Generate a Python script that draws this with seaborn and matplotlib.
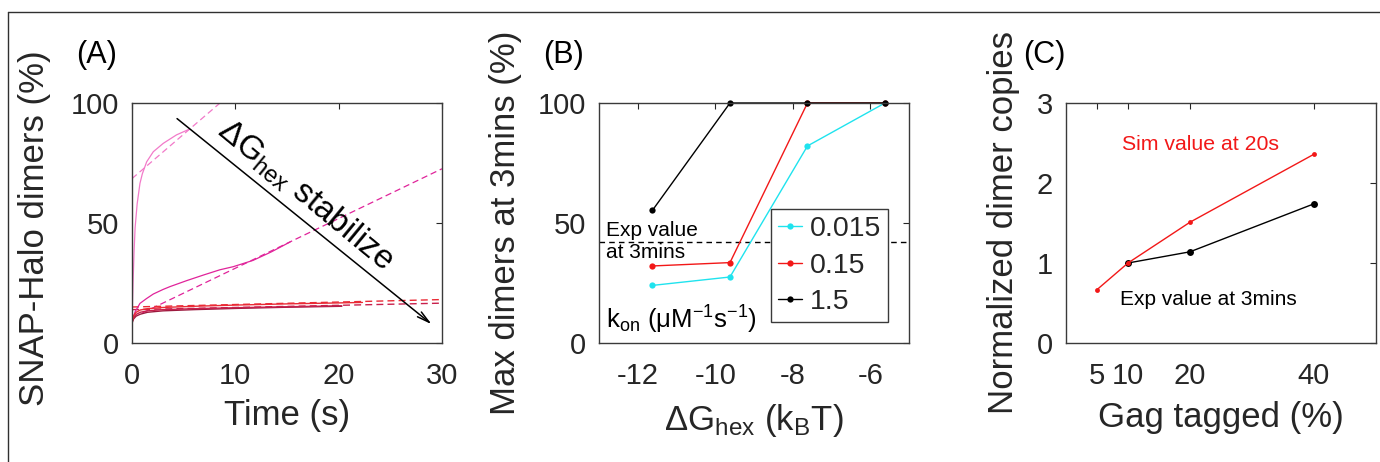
import numpy as np
import pandas as pd
import matplotlib
matplotlib.use("Agg")
import matplotlib.pyplot as plt
from matplotlib.lines import Line2D
import seaborn as sns

# ---------------- Panel A: SNAP-Halo dimer time courses ----------------
pink_t = [0, 0.1, 0.2, 0.3, 0.5, 0.77, 1.0, 1.42, 2.06, 3.03, 4.3, 5.5]
pink_y = [9.5, 25, 38, 48, 58, 66.5, 70.5, 75.5, 79.7, 83.2, 86.7, 89]
pink_fit_t = [0, 8.6]
pink_fit_y = [68.5, 100.3]

mag_t = [0, 0.3, 0.77, 1.4, 2.06, 3.0, 3.68, 5.3, 6.9, 8.5, 9.8, 11.7, 13.5, 15.3]
mag_y = [9, 13, 16.5, 18.5, 20.4, 22.3, 23.5, 26, 28.3, 30.5, 31.8, 34.4, 38, 42.1]
mag_fit_t = [1.0, 30]
mag_fit_y = [12.5, 72.6]

red_t = [0, 0.15, 0.4, 0.8, 1.5, 3, 6, 10, 15, 20, 22.3]
red_y = [9, 11.3, 12.8, 13.75, 14.3, 14.8, 15.3, 15.8, 16.3, 16.7, 16.9]
red_fit_t = [0, 30]
red_fit_y = [15.0, 18.1]

crim_t = [0, 0.15, 0.4, 0.8, 1.5, 3, 6, 10, 15, 20.3]
crim_y = [8.7, 10.6, 11.9, 12.8, 13.4, 13.9, 14.3, 14.7, 15.1, 15.5]
crim_fit_t = [0, 30]
crim_fit_y = [13.9, 16.6]

dark_t = [0, 0.15, 0.4, 0.8, 1.5, 3, 6, 10, 15, 20.3]
dark_y = [8.2, 10.0, 11.2, 12.0, 12.8, 13.4, 13.9, 14.4, 14.9, 15.3]

# ---------------- Panel B: max dimers at 3 mins ----------------
dg_hex = [-11.62, -9.62, -7.62, -5.62]
kon_labels = ["0.015", "0.15", "1.5"]
maxdim_k0015 = [24.0, 27.5, 82.1, 100]
maxdim_k015 = [32.1, 33.5, 100, 100]
maxdim_k15 = [55.3, 100, 100, 100]
exp_value_3min = 42.1

# ---------------- Panel C: normalized dimer copies ----------------
gag_sim = [5, 10, 20, 40]
sim_20s = [0.667, 1.0, 1.51, 2.36]
gag_exp = [10, 20, 40]
exp_3min = [1.0, 1.14, 1.74]

# ---------------- style ----------------
sns.set_style("white")
plt.rcParams["font.family"] = ["Liberation Sans", "DejaVu Sans"]
plt.rcParams["mathtext.fontset"] = "custom"
plt.rcParams["mathtext.rm"] = "Liberation Sans"
plt.rcParams["mathtext.it"] = "Liberation Sans:italic"
plt.rcParams["mathtext.default"] = "regular"
plt.rcParams["axes.unicode_minus"] = False

INK = "#262626"
W, H = 1380, 462
fig = plt.figure(figsize=(W / 100, H / 100), dpi=100)


def box(left_px):
    return [left_px / W, (H - 343) / H, 310 / W, 240 / H]


def style_axes(ax):
    ax.tick_params(direction="in", top=True, right=True, length=4, width=0.8,
                   color=INK, labelcolor=INK, labelsize=21)
    ax.tick_params(axis="x", pad=14)
    ax.tick_params(axis="y", pad=9.5)
    for s in ax.spines.values():
        s.set_color("#3a3a3a")
        s.set_linewidth(1.0)
    ax.set_facecolor("white")


def line(ax, x, y, **kw):
    sns.lineplot(x=x, y=y, ax=ax, estimator=None, sort=False, **kw)


# ---- Panel A ----
axA = fig.add_axes(box(132))
pink, mag, red, crim, dark = "#f27ac9", "#e0249a", "#ea2a35", "#c8204c", "#9c1a3e"
dash = (0, (5, 3))
line(axA, pink_fit_t, pink_fit_y, color=pink, lw=0.9, linestyle=dash)
line(axA, mag_fit_t, mag_fit_y, color=mag, lw=0.9, linestyle=dash)
line(axA, red_fit_t, red_fit_y, color=red, lw=1.0, linestyle=dash)
line(axA, crim_fit_t, crim_fit_y, color=crim, lw=1.0, linestyle=dash)
line(axA, pink_t, pink_y, color=pink, lw=0.9)
line(axA, mag_t, mag_y, color=mag, lw=0.9)
line(axA, dark_t, dark_y, color=dark, lw=1.0)
line(axA, crim_t, crim_y, color=crim, lw=1.0)
line(axA, red_t, red_y, color=red, lw=1.0)
axA.set_xlim(0, 30)
axA.set_ylim(0, 100)
axA.set_xticks([0, 10, 20, 30])
axA.set_yticks([0, 50, 100])
style_axes(axA)
axA.set_xlabel("Time (s)", fontsize=25, color=INK)
axA.set_ylabel("SNAP-Halo dimers (%)", fontsize=25, color=INK)
axA.xaxis.set_label_coords(0.5, -0.235)
axA.yaxis.set_label_coords(-0.26, 0.48)
axA.annotate("", xy=(29.0, 7.8), xytext=(4.36, 93.5),
             arrowprops=dict(arrowstyle="->,head_length=0.9,head_width=0.22",
                             lw=1.1, color="black", shrinkA=0, shrinkB=0))
axA.text(16.8, 61.5, "ΔG$_{hex}$ stabilize", fontsize=24, color="black",
         rotation=-39.5, rotation_mode="anchor", ha="center", va="center")

# ---- Panel B ----
axB = fig.add_axes(box(599))
axB.axhline(exp_value_3min, color="black", lw=1.0, linestyle=(0, (4, 3)))
cols_B = ["#1fe3ee", "#f21818", "black"]
for vals, lab, c in zip([maxdim_k0015, maxdim_k015, maxdim_k15], kon_labels, cols_B):
    line(axB, dg_hex, vals, color=c, lw=1.0, marker="o", markersize=4.5,
         markeredgewidth=0, label=lab, clip_on=False)
axB.set_xlim(-13, -5)
axB.set_ylim(0, 100)
axB.set_xticks([-12, -10, -8, -6])
axB.set_yticks([0, 50, 100])
style_axes(axB)
axB.set_xlabel("ΔG$_{hex}$ (k$_B$T)", fontsize=25, color=INK)
axB.set_ylabel("Max dimers at 3mins (%)", fontsize=25, color=INK)
axB.xaxis.set_label_coords(0.5, -0.245)
axB.yaxis.set_label_coords(-0.25, 0.5)
axB.text(-12.81, exp_value_3min, "Exp value\nat 3mins", fontsize=15, color="black",
         ha="left", va="center", linespacing=1.2)
axB.text(-12.81, 6.2, "k$_{on}$ (μM$^{-1}$s$^{-1}$)", fontsize=18.5, color="black",
         ha="left", va="baseline")
leg = axB.legend(loc="lower right", bbox_to_anchor=(0.932, 0.0875), fontsize=20.5,
                 frameon=True, fancybox=False, framealpha=1, edgecolor="#3a3a3a",
                 handlelength=0.85, handletextpad=0.25, labelspacing=0.36,
                 borderpad=0.25, borderaxespad=0)
leg.get_frame().set_linewidth(1.0)

# ---- Panel C ----
axC = fig.add_axes(box(1066))
line(axC, gag_exp, exp_3min, color="black", lw=1.0, marker="o", markersize=5,
     markeredgewidth=0)
line(axC, gag_sim, sim_20s, color="#f21818", lw=1.0, marker="o", markersize=3.5,
     markeredgewidth=0)
axC.set_xlim(0, 50)
axC.set_ylim(0, 3)
axC.set_xticks([5, 10, 20, 40])
axC.set_yticks([0, 1, 2, 3])
style_axes(axC)
axC.set_xlabel("Gag tagged (%)", fontsize=25, color=INK)
axC.set_ylabel("Normalized dimer copies", fontsize=25, color=INK)
axC.xaxis.set_label_coords(0.5, -0.24)
axC.yaxis.set_label_coords(-0.148, 0.5)
axC.text(9.0, 2.48, "Sim value at 20s", fontsize=15.3, color="#f21818",
         ha="left", va="center")
axC.text(8.7, 0.546, "Exp value at 3mins", fontsize=15, color="black",
         ha="left", va="center")

# panel letters
for xpx, lab in [(76, "(A)"), (543, "(B)"), (1023, "(C)")]:
    fig.text(xpx / W, 1 - 55 / H, lab, fontsize=22, color="black",
             ha="left", va="center")

# outer frame (top and left edges)
fig.add_artist(Line2D([8 / W, 1], [1 - 12 / H, 1 - 12 / H], transform=fig.transFigure,
                      color="#303030", lw=1.0))
fig.add_artist(Line2D([8 / W, 8 / W], [0, 1 - 12 / H], transform=fig.transFigure,
                      color="#303030", lw=1.0))

fig.savefig("out.png", dpi=100, facecolor="white")
